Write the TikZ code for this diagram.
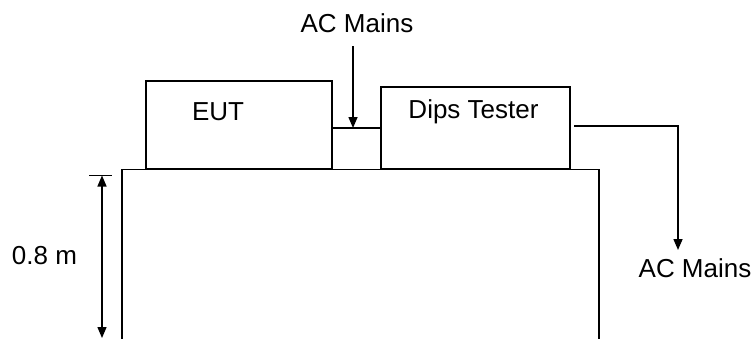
\documentclass[tikz,border=0pt]{standalone}
\usepackage{fontspec}
\setmainfont{Liberation Sans}
\usetikzlibrary{positioning,arrows.meta,calc}

\begin{document}
\begin{tikzpicture}[x=1pt, y=-1pt,
  box/.style={draw, line width=2pt, inner sep=0pt, anchor=north west},
  lab/.style={font=\fontsize{26}{30}\selectfont, inner sep=0pt, anchor=base},
  arr/.style={-{Triangle[length=11pt, width=9pt]}, line width=1.5pt},
  dim/.style={{Triangle[length=11pt, width=9pt]}-{Triangle[length=11pt, width=9pt]}, line width=1.4pt}]
  \useasboundingbox (0,0) rectangle (754,338);
  % table
  \draw[line width=1.6pt] (122,345) -- (122,169.5) -- (599,169.5) -- (599,345);
  % equipment on the table
  \node[box, minimum width=186pt, minimum height=88pt] (eut) at (145,80) {};
  \node[box, minimum width=189pt, minimum height=82pt] (dips) at (380,86) {};
  \node[lab] (eutT) at (218,120) {EUT};
  \node[lab] (dipsT) at (473.5,118) {Dips Tester};
  \node[lab] (mainsA) at (357,32) {AC Mains};
  \node[lab] (mainsB) at (695,277) {AC Mains};
  \node[lab] (hgt) at (44.5,264) {0.8 m};
  % connections
  \draw[line width=2pt] (eut.east |- dips.west) -- (dips.west);
  \draw[arr] (353,46) -- (353,128);
  \coordinate (outS) at ($(dips.east)+(3,-2)$);
  \coordinate (outE) at (678,250);
  \draw[arr] (outS) -| (outE);
  % height of the table
  \draw[line width=1.6pt] (89,175.5) -- (112,175.5);
  \draw[dim] (102,175.5) -- (102,338);
\end{tikzpicture}
\end{document}
